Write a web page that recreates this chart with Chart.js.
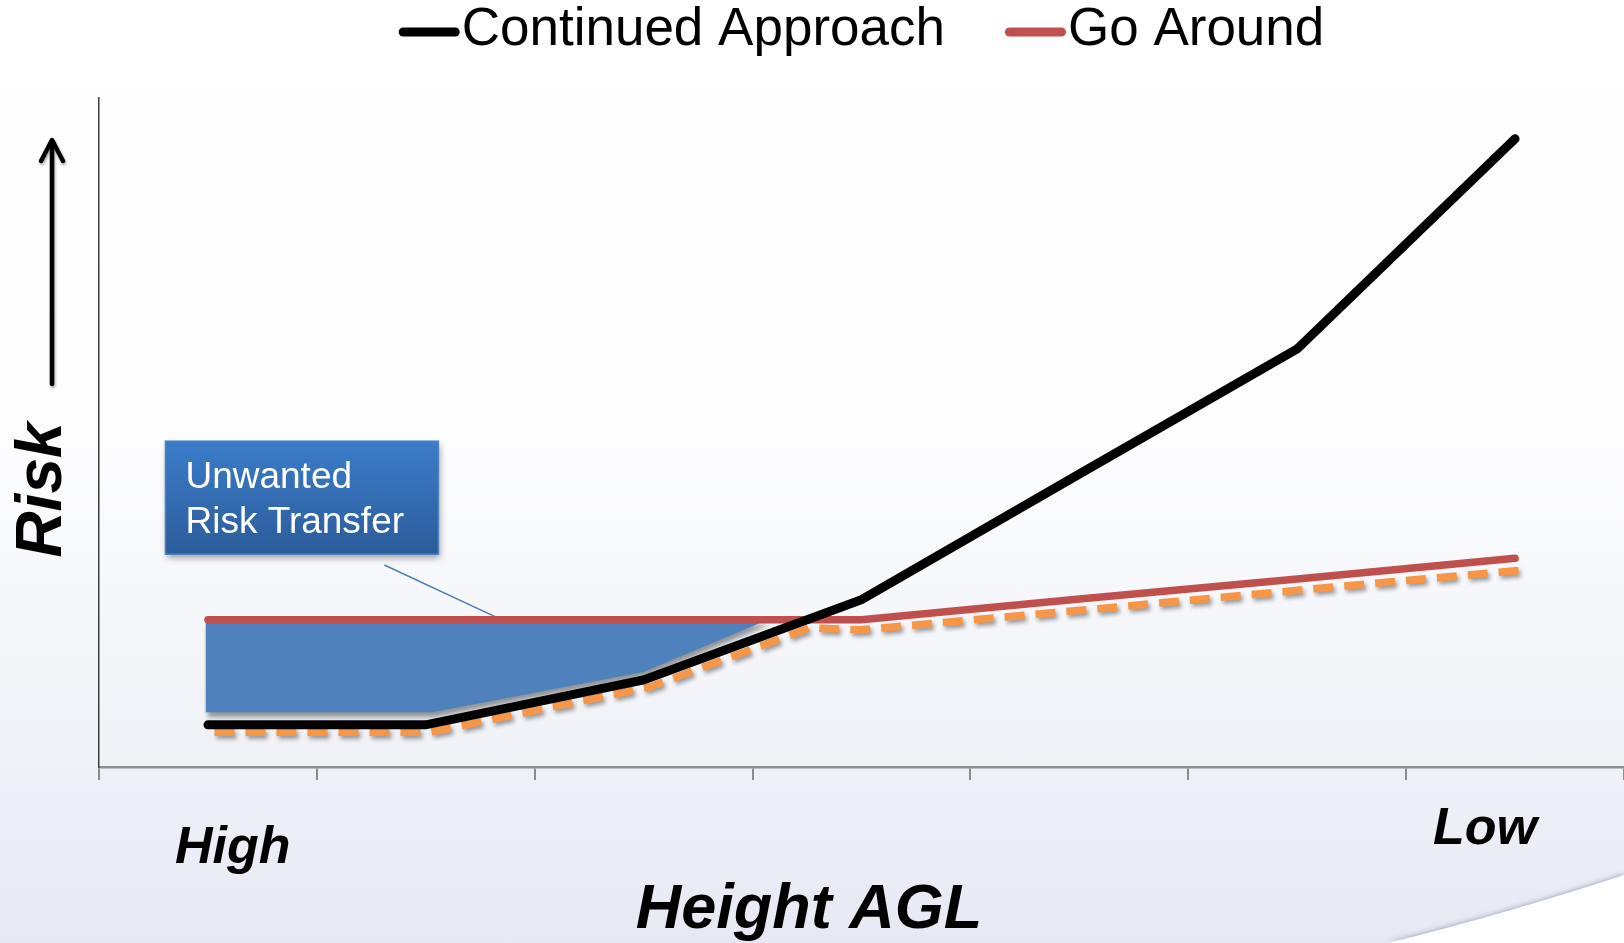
<!DOCTYPE html>
<html lang="en">
  <head>
    <meta charset="UTF-8" />
    <title>Continued Approach vs Go Around</title>
    <style>
      html,
      body {
        margin: 0;
        padding: 0;
      }

      body {
        width: 1624px;
        height: 943px;
        overflow: hidden;
        /* slide background: white on top, light blue-grey at the bottom */
        background: linear-gradient(to bottom, #ffffff 0%, #fdfdfe 45%, #f2f4f9 75%, #e6e9f3 100%);
      }

      .chart_container {
        position: relative;
        width: 1624px;
        height: 943px;
      }
    </style>
  </head>
  <body>
    <div class="chart_container">
      <canvas id="risk-chart"></canvas>
    </div>

    <script src="https://cdn.jsdelivr.net/npm/chart.js@4.4.0/dist/chart.umd.min.js"></script>
    <script>
      // 7 height bands on the x axis, High (left) to Low (right)
      let bandCenters = [0.5, 1.5, 2.5, 3.5, 4.5, 5.5, 6.5];
      let continuedApproach = [6.3, 6.3, 13.0, 25.0, 43.8, 62.5, 93.9];
      let goAround = [22.0, 22.0, 22.0, 22.0, 25.1, 28.1, 31.2];

      // dashed orange lower envelope
      let envelopeX = [0.53, 1.52, 2.53, 3.26, 3.49, 4.53, 5.53, 6.53];
      let envelopeY = [5.2, 5.2, 12.0, 20.8, 20.5, 23.5, 26.5, 29.4];

      // outline of the shaded "unwanted risk transfer" area
      let transferX = [0.49, 3.07, 2.5, 1.53, 0.49];
      let transferY = [22.0, 22.0, 14.2, 8.2, 8.2];

      // callout pointer
      let calloutX = [1.31, 1.83];
      let calloutY = [30.2, 22.3];

      let seriesNames = ['Continued Approach', 'Go Around'];
      let calloutLines = ['Unwanted', 'Risk Transfer'];
      let axisEnds = ['High', 'Low'];
      let axisTitles = ['Height AGL', 'Risk'];

      const FONT = '"Liberation Sans", Arial, sans-serif';

      function toPoints(xs, ys) {
        return xs.map((x, i) => ({ x: x, y: ys[i] }));
      }

      function applyShadow(ctx, s) {
        if (s) {
          ctx.shadowColor = s.color;
          ctx.shadowBlur = s.blur;
          ctx.shadowOffsetX = s.dx;
          ctx.shadowOffsetY = s.dy;
        } else {
          ctx.shadowColor = 'rgba(0,0,0,0)';
          ctx.shadowBlur = 0;
          ctx.shadowOffsetX = 0;
          ctx.shadowOffsetY = 0;
        }
      }

      // soft drop shadow for datasets that ask for one (fill included)
      const shadowPlugin = {
        id: 'softShadow',
        beforeDatasetsDraw(chart) {
          const metas = chart.getSortedVisibleDatasetMetas();
          chart.ctx.save();
          // the filler paints before our per-dataset hook, so prime the first one here
          applyShadow(chart.ctx, chart.data.datasets[metas[metas.length - 1].index].shadow);
        },
        beforeDatasetDraw(chart, args) {
          applyShadow(chart.ctx, chart.data.datasets[args.index].shadow);
        },
        afterDatasetDraw(chart) {
          applyShadow(chart.ctx, null);
        },
        afterDatasetsDraw(chart) {
          chart.ctx.restore();
        },
      };

      const slidePlugin = {
        id: 'slideDecor',
        beforeDraw(chart) {
          // white swoosh in the bottom right corner
          const { ctx, width, height } = chart;
          ctx.save();
          ctx.beginPath();
          ctx.moveTo(width - 236, height);
          ctx.quadraticCurveTo(width - 122, height - 28, width, height - 68);
          ctx.lineTo(width, height);
          ctx.closePath();
          ctx.shadowColor = 'rgba(80,95,130,0.45)';
          ctx.shadowBlur = 5;
          ctx.shadowOffsetY = -1;
          ctx.fillStyle = '#ffffff';
          ctx.fill();
          ctx.restore();
        },
        afterDatasetsDraw(chart) {
          const { ctx } = chart;
          const x = chart.scales.x;
          const y = chart.scales.y;

          // callout box
          const left = x.getPixelForValue(0.305);
          const right = x.getPixelForValue(1.558);
          const top = y.getPixelForValue(48.7);
          const bottom = y.getPixelForValue(31.8);
          ctx.save();
          const grad = ctx.createLinearGradient(0, top, 0, bottom);
          grad.addColorStop(0, '#3b7cca');
          grad.addColorStop(1, '#2c5c9a');
          ctx.shadowColor = 'rgba(0,0,0,0.4)';
          ctx.shadowBlur = 7;
          ctx.shadowOffsetX = 2;
          ctx.shadowOffsetY = 4;
          ctx.fillStyle = grad;
          ctx.fillRect(left, top, right - left, bottom - top);
          ctx.restore();
          ctx.save();
          ctx.strokeStyle = '#4f81bd';
          ctx.lineWidth = 1.5;
          ctx.strokeRect(left, top, right - left, bottom - top);
          ctx.fillStyle = '#ffffff';
          ctx.font = '37px ' + FONT;
          ctx.textAlign = 'left';
          ctx.textBaseline = 'alphabetic';
          ctx.fillText(calloutLines[0], left + 20, top + 47);
          ctx.fillText(calloutLines[1], left + 20, top + 92);
          ctx.restore();
        },
        afterDraw(chart) {
          const { ctx, chartArea } = chart;
          ctx.save();

          // legend
          const items = [0, 1].map((i) => chart.data.datasets[i]);
          ctx.font = '53px ' + FONT;
          const lineLen = 61;
          const textGap = 2;
          const itemGap = 60;
          const widths = items.map((d) => lineLen + textGap + ctx.measureText(d.label).width);
          let lx = (chartArea.left + chartArea.right) / 2 - (widths[0] + widths[1] + itemGap) / 2;
          items.forEach((d, i) => {
            ctx.strokeStyle = d.borderColor;
            ctx.lineWidth = 9;
            ctx.lineCap = 'round';
            ctx.beginPath();
            ctx.moveTo(lx + 4.5, 32);
            ctx.lineTo(lx + lineLen - 4.5, 32);
            ctx.stroke();
            ctx.fillStyle = '#000000';
            ctx.textAlign = 'left';
            ctx.textBaseline = 'alphabetic';
            ctx.fillText(d.label, lx + lineLen + textGap, 45);
            lx += widths[i] + itemGap;
          });

          // axis ends and titles
          ctx.fillStyle = '#000000';
          ctx.font = 'italic bold 52px ' + FONT;
          ctx.fillText(axisEnds[0], 175, 863);
          ctx.fillText(axisEnds[1], 1433, 844);
          ctx.font = 'italic bold 63px ' + FONT;
          ctx.textAlign = 'center';
          ctx.fillText(axisTitles[0], 809, 928);

          ctx.save();
          ctx.translate(61, 490);
          ctx.rotate(-Math.PI / 2);
          ctx.font = 'italic bold 64px ' + FONT;
          ctx.textAlign = 'center';
          ctx.fillText(axisTitles[1], 0, 0);
          ctx.restore();

          // "risk goes up" arrow
          ctx.shadowColor = 'rgba(0,0,0,0.35)';
          ctx.shadowBlur = 3;
          ctx.shadowOffsetX = 1;
          ctx.shadowOffsetY = 2;
          ctx.strokeStyle = '#000000';
          ctx.lineWidth = 4.5;
          ctx.lineCap = 'round';
          ctx.lineJoin = 'round';
          ctx.beginPath();
          ctx.moveTo(52, 384);
          ctx.lineTo(52, 141);
          ctx.stroke();
          ctx.beginPath();
          ctx.moveTo(41, 161);
          ctx.lineTo(52, 140);
          ctx.lineTo(63, 161);
          ctx.stroke();
          ctx.restore();
        },
      };

      let chart = new Chart(document.getElementById('risk-chart'), {
        type: 'line',
        data: {
          datasets: [
            {
              label: seriesNames[0],
              data: toPoints(bandCenters, continuedApproach),
              borderColor: '#000000',
              borderWidth: 9,
              borderCapStyle: 'round',
              borderJoinStyle: 'miter',
              fill: false,
              order: 0,
            },
            {
              label: seriesNames[1],
              data: toPoints(bandCenters, goAround),
              borderColor: '#c0504d',
              borderWidth: 7.5,
              borderCapStyle: 'round',
              fill: false,
              order: 1,
            },
            {
              label: 'envelope',
              data: toPoints(envelopeX, envelopeY),
              borderColor: '#f79646',
              borderWidth: 7.5,
              borderDash: [20, 11],
              borderCapStyle: 'butt',
              fill: false,
              order: 2,
              shadow: { color: 'rgba(0,0,0,0.38)', blur: 4, dx: 2, dy: 3 },
            },
            {
              label: 'callout',
              data: toPoints(calloutX, calloutY),
              borderColor: '#4a7ebb',
              borderWidth: 1.5,
              fill: false,
              order: 3,
            },
            {
              label: 'transfer',
              data: toPoints(transferX, transferY),
              borderColor: 'rgba(0,0,0,0)',
              borderWidth: 0,
              backgroundColor: '#4f81bd',
              fill: 'shape',
              order: 4,
              shadow: { color: 'rgba(0,0,0,0.4)', blur: 5, dx: 2, dy: 5 },
            },
          ],
        },
        options: {
          responsive: true,
          maintainAspectRatio: false,
          animation: false,
          events: [],
          elements: {
            point: { radius: 0 },
            line: { tension: 0 },
          },
          layout: {
            padding: { left: 99, right: 0, top: 98, bottom: 163 },
          },
          plugins: {
            legend: { display: false },
            tooltip: { enabled: false },
          },
          scales: {
            x: {
              type: 'linear',
              min: 0,
              max: 7,
              ticks: { stepSize: 1, display: false },
              grid: {
                drawOnChartArea: false,
                drawTicks: true,
                tickLength: 13,
                color: '#8c8c8c',
                lineWidth: 2,
              },
              border: { color: '#8c8c8c', width: 2.5 },
            },
            y: {
              min: 0,
              max: 100,
              ticks: { display: false },
              grid: { display: false, drawTicks: false },
              border: { color: '#3c3c3c', width: 1.5 },
            },
          },
        },
        plugins: [shadowPlugin, slidePlugin],
      });
    </script>
  </body>
</html>
